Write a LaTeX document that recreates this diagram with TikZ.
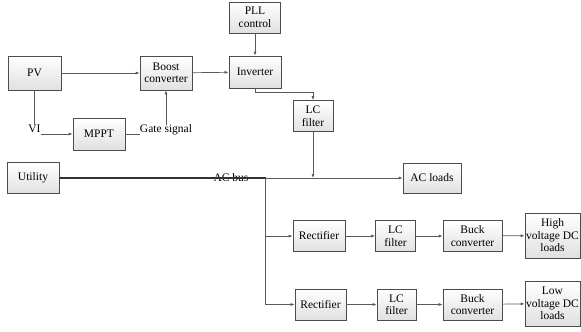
\documentclass[tikz,border=0pt]{standalone}
\usepackage{fontspec}
\setmainfont{Liberation Serif}
\usetikzlibrary{arrows.meta}
\tikzset{
  blk/.style={draw=black!70, line width=0.7pt, top color=white, bottom color=black!12,
    align=center, inner sep=1pt, font=\fontsize{11.5}{12.5}\selectfont},
  lbl/.style={inner sep=0pt, font=\fontsize{11.5}{12.5}\selectfont},
  wire/.style={draw=black!65, line width=0.7pt},
  arr/.style={wire, -{Latex[length=4pt,width=3pt]}}
}
\begin{document}
\begin{tikzpicture}[x=1pt,y=-1pt]
\useasboundingbox (0,0) rectangle (581,332);
% source side
\node [blk, minimum width=53, minimum height=34] (pv) at (34.5,73) {PV};
\node [blk, minimum width=52, minimum height=34] (boost) at (166,73) {Boost\\converter};
\node [blk, minimum width=52, minimum height=32] (inv) at (255,72) {Inverter};
\node [blk, minimum width=51, minimum height=31] (pll) at (255,17.5) {PLL\\control};
\node [blk, minimum width=52, minimum height=32] (mppt) at (99,134) {MPPT};
\node [lbl] (vi) at (34.5,129) {VI};
\node [lbl] (gate) at (166,130) {Gate signal};
\node [blk, minimum width=40, minimum height=31] (lc) at (313,116) {LC\\filter};
% grid side
\node [blk, minimum width=52, minimum height=31] (util) at (33,178) {Utility};
\node [blk, minimum width=58, minimum height=30] (acl) at (432,178) {AC loads};
\node [lbl] (bus) at (231,178) {AC bus};
\coordinate (tap) at (313,178);
\coordinate (br) at (265.5,178);
% dc rows
\node [blk, minimum width=52, minimum height=31] (rect1) at (319,236) {Rectifier};
\node [blk, minimum width=40, minimum height=31] (lcf1) at (395.5,236) {LC\\filter};
\node [blk, minimum width=59, minimum height=31] (buck1) at (472.5,236) {Buck\\converter};
\node [blk, minimum width=55, minimum height=45] (hv) at (552.5,235.5) {High\\voltage DC\\loads};
\node [blk, minimum width=51, minimum height=31] (rect2) at (320.5,304.5) {Rectifier};
\node [blk, minimum width=39, minimum height=31] (lcf2) at (396.5,304.5) {LC\\filter};
\node [blk, minimum width=59, minimum height=31] (buck2) at (472.5,304.5) {Buck\\converter};
\node [blk, minimum width=55, minimum height=45] (lv) at (552.5,303.5) {Low\\voltage DC\\loads};

\draw [arr] (pv) -- (boost);
\draw [arr] (boost) -- (inv);
\draw [arr] (pll) -- (inv);
\draw [wire] (pv.south) -- (pv.south |- vi.north);
\draw [arr] (vi.east |- mppt.west) -- (mppt.west);
\draw [wire] (mppt.east) -- (mppt.east -| gate.west);
\draw [arr] (gate.north) -- (boost.south);
\draw [arr] (inv.south) -- ++(0,4) -| (lc.north);
\draw [arr] (lc.south) -- (tap);
\draw [wire, line width=1.1pt, draw=black!80] (util.east) -- (br);
\draw [arr] (br) -- (acl.west);
\draw [wire, line width=1.1pt, draw=black!80] (br) -- (br |- rect1.west);
\draw [arr] (br |- rect1.west) -- (rect1.west);
\draw [arr] (br) |- (rect2.west);
\draw [arr] (rect1) -- (lcf1);
\draw [arr] (lcf1) -- (buck1);
\draw [arr] (buck1) -- (hv);
\draw [arr] (rect2) -- (lcf2);
\draw [arr] (lcf2) -- (buck2);
\draw [arr] (buck2) -- (lv);
\end{tikzpicture}
\end{document}
